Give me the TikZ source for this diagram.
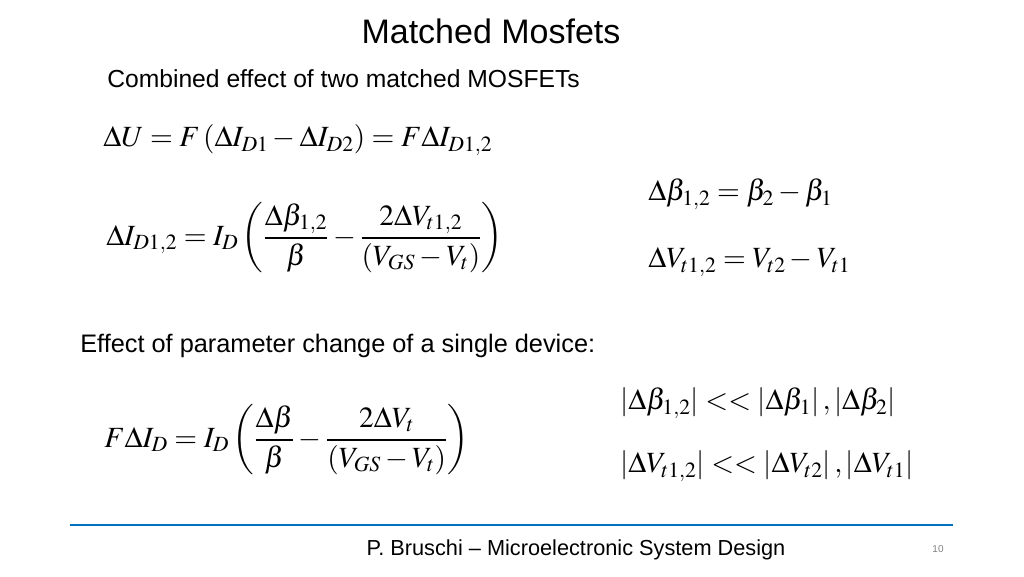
\documentclass[tikz,border=0pt]{standalone}
\usepackage{amsmath}
\usepackage{mathptmx}
\usepackage{fontspec}
\setmainfont{Liberation Sans}
\definecolor{lineblue}{RGB}{0,112,192}
\begin{document}
\begin{tikzpicture}[x=0.75pt,y=-0.75pt,
  txt/.style={inner sep=0pt,font=\fontsize{18.7}{21}\selectfont},
  eq/.style={inner sep=0pt,font=\fontsize{22}{26}\selectfont}]
\useasboundingbox (0,0) rectangle (1024,576);
\node[inner sep=0pt,font=\fontsize{25.5}{29}\selectfont] (title) at (491,31) {Matched Mosfets};
\node[txt,anchor=west,font=\fontsize{18.5}{21}\selectfont] (t1) at (107,79) {Combined effect of two matched MOSFETs};
\node[eq,anchor=west] (e1) at (103,140) {$\Delta U = F\left(\Delta I_{D1}-\Delta I_{D2}\right)=F\Delta I_{D1,2}$};
\node[eq,anchor=west] (e2) at (106,238) {$\Delta I_{D1,2}=I_D\left(\dfrac{\Delta\beta_{1,2}}{\beta}-\dfrac{2\Delta V_{t1,2}}{\left(V_{GS}-V_t\right)}\right)$};
\node[eq,anchor=west] (e3) at (648,194) {$\Delta\beta_{1,2}=\beta_2-\beta_1$};
\node[eq,anchor=west] (e4) at (648,262) {$\Delta V_{t1,2}=V_{t2}-V_{t1}$};
\node[txt,anchor=west,font=\fontsize{19}{21}\selectfont] (t2) at (80,346) {Effect of parameter change of a single device:};
\node[eq,anchor=west] (e5) at (104,440) {$F\Delta I_D=I_D\left(\dfrac{\Delta\beta}{\beta}-\dfrac{2\Delta V_t}{\left(V_{GS}-V_t\right)}\right)$};
\node[eq,anchor=west] (e6) at (620,403) {$\left|\Delta\beta_{1,2}\right|<<\left|\Delta\beta_1\right|,\left|\Delta\beta_2\right|$};
\node[eq,anchor=west] (e7) at (620,466) {$\left|\Delta V_{t1,2}\right|<<\left|\Delta V_{t2}\right|,\left|\Delta V_{t1}\right|$};
\coordinate (l1) at (70,525); \coordinate (l2) at (953,525);
\draw[lineblue,line width=2.2pt] (l1) -- (l2);
\node[inner sep=0pt,font=\fontsize{16.3}{18}\selectfont] (foot) at (576,550) {P. Bruschi -- Microelectronic System Design};
\node[inner sep=0pt,font=\fontsize{7.5}{9}\selectfont,text=gray] (pg) at (938,549) {10};
\end{tikzpicture}
\end{document}
